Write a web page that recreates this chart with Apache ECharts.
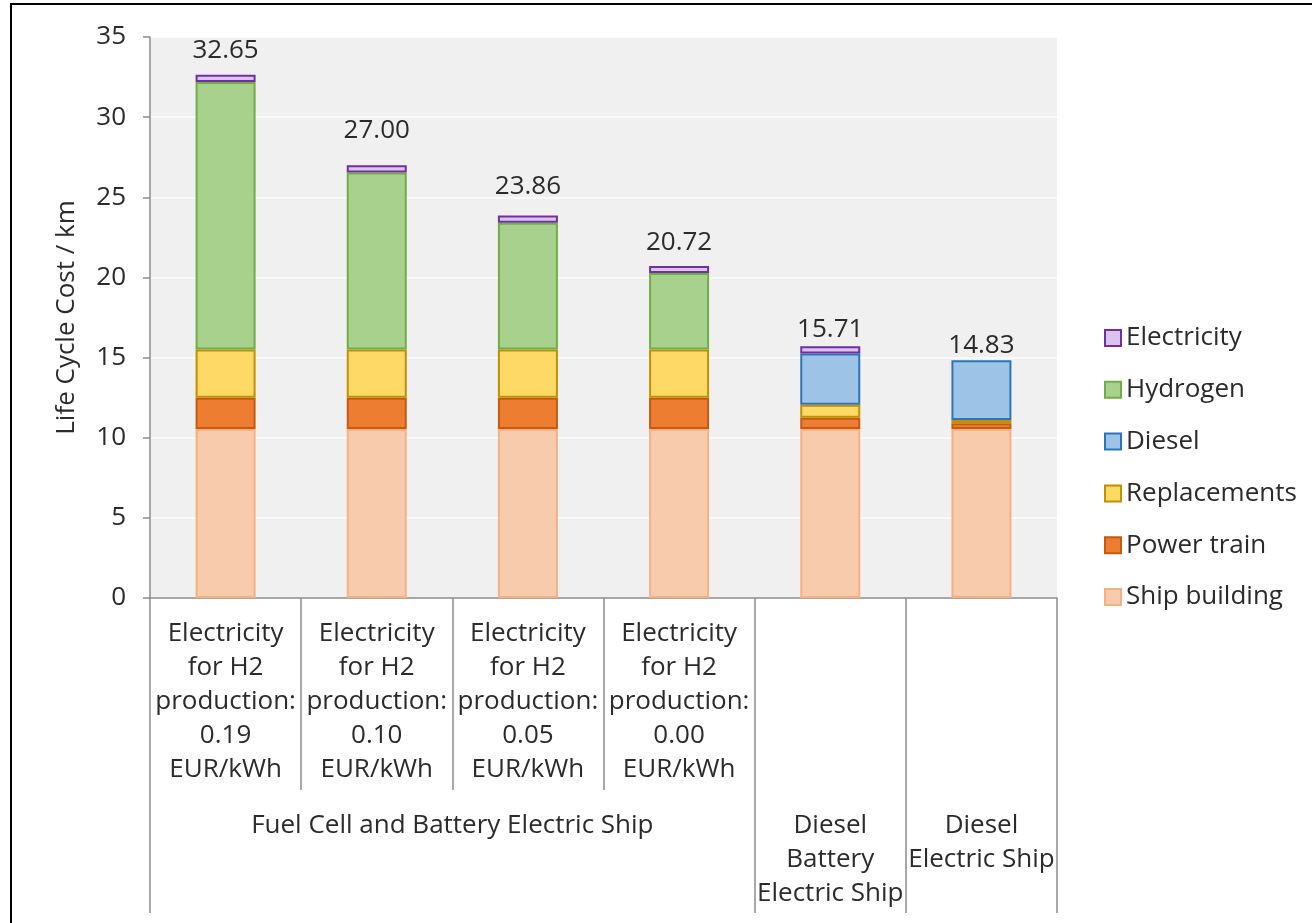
<!DOCTYPE html>
<html>
<head>
<meta charset="utf-8">
<script src="https://cdn.jsdelivr.net/npm/echarts@6/dist/echarts.min.js"></script>
<style>
  html, body { margin: 0; padding: 0; background: #fff; }
  #chart { width: 1312px; height: 923px; }
</style>
</head>
<body>
<div id="chart"></div>
<script>
// categories (first label row) and groups (second label row)
const categories = [
  'Electricity\nfor H2\nproduction:\n0.19\nEUR/kWh',
  'Electricity\nfor H2\nproduction:\n0.10\nEUR/kWh',
  'Electricity\nfor H2\nproduction:\n0.05\nEUR/kWh',
  'Electricity\nfor H2\nproduction:\n0.00\nEUR/kWh',
  '',
  ''
];
const groupNames = ['Fuel Cell and Battery Electric Ship', 'Diesel\nBattery\nElectric Ship', 'Diesel\nElectric Ship'];
const groupSpans = [4, 1, 1];

// stacked values, bottom to top
const shipBuilding = [10.55, 10.55, 10.55, 10.55, 10.55, 10.55];
const powerTrain   = [1.95, 1.95, 1.95, 1.95, 0.70, 0.35];
const replacements = [3.00, 3.00, 3.00, 3.00, 0.80, 0.20];
const diesel       = [null, null, null, null, 3.20, 3.73];
const hydrogen     = [16.70, 11.05, 7.91, 4.77, null, null];
const electricity  = [0.45, 0.45, 0.45, 0.45, 0.46, null];
const totals       = [32.65, 27.00, 23.86, 20.72, 15.71, 14.83];

const legendOrder = ['Electricity', 'Hydrogen', 'Diesel', 'Replacements', 'Power train', 'Ship building'];

const FONT = '"Open Sans", "Noto Sans", sans-serif';
const TEXT = '#2b2b2b';
const AXIS = '#8c8c8c';

const chart = echarts.init(document.getElementById('chart'));

// second label row: half-category slots, so group centres and boundaries fall on slots
const slotCount = categories.length * 2 + 1;
const slotData = [];
for (let i = 0; i < slotCount; i++) slotData.push('s' + i);
const slotLabel = {};
const slotTicks = { 0: true };
let start = 0;
groupNames.forEach((name, g) => {
  slotLabel[start * 2 + groupSpans[g]] = name;
  start += groupSpans[g];
  slotTicks[start * 2] = true;
});

function barSeries(name, data, fill, border) {
  return {
    name: name,
    type: 'bar',
    stack: 'cost',
    barWidth: 60,
    data: data,
    itemStyle: { color: fill, borderColor: border, borderWidth: 2 },
    emphasis: { disabled: true }
  };
}

const labelDistance = [11, 21, 15, 10, 3, 1];

const option = {
  animation: false,
  textStyle: { fontFamily: FONT },
  grid: {
    left: 150, right: 255, top: 37, bottom: 325,
    show: true, backgroundColor: '#f0f0f0', borderWidth: 0
  },
  legend: {
    data: legendOrder,
    orient: 'vertical',
    left: 1099,
    top: 320,
    icon: 'rect',
    itemWidth: 16,
    itemHeight: 16,
    itemGap: 25.8,
    textStyle: { fontSize: 26, color: TEXT, fontFamily: FONT }
  },
  xAxis: [
    {
      type: 'category',
      data: categories,
      axisLine: { show: true, lineStyle: { color: AXIS, width: 1.5 } },
      axisTick: { show: true, interval: 0, length: 192, lineStyle: { color: AXIS, width: 1.5 } },
      axisLabel: {
        interval: 0, margin: 19, fontSize: 26, lineHeight: 34,
        color: TEXT, fontFamily: FONT
      }
    },
    {
      type: 'category',
      boundaryGap: false,
      data: slotData,
      position: 'bottom',
      axisLine: { show: false },
      axisTick: {
        show: true,
        interval: (idx) => !!slotTicks[idx],
        length: 315,
        lineStyle: { color: AXIS, width: 1.5 }
      },
      axisLabel: {
        interval: 0, margin: 211, fontSize: 26, lineHeight: 34,
        color: TEXT, fontFamily: FONT,
        formatter: (v, idx) => slotLabel[idx] || ''
      }
    }
  ],
  yAxis: {
    type: 'value',
    min: 0, max: 35, interval: 5,
    name: 'Life Cycle Cost / km',
    nameLocation: 'middle',
    nameGap: 70,
    nameTextStyle: { fontSize: 26, color: TEXT, fontFamily: FONT },
    axisLine: { show: true, lineStyle: { color: AXIS, width: 1.5 } },
    axisTick: { show: true, length: 7, lineStyle: { color: AXIS, width: 1.5 } },
    axisLabel: { margin: 24, fontSize: 26, color: TEXT, fontFamily: FONT },
    splitLine: { lineStyle: { color: '#ffffff', width: 1.5 } }
  },
  series: [
    barSeries('Ship building', shipBuilding, '#f8cbad', '#f4b183'),
    barSeries('Power train', powerTrain, '#ed7d31', '#c55a11'),
    barSeries('Replacements', replacements, '#ffd966', '#bf9000'),
    barSeries('Diesel', diesel, '#9dc3e6', '#2e75b6'),
    barSeries('Hydrogen', hydrogen, '#a9d18e', '#70ad47'),
    barSeries('Electricity', electricity, '#dcc3ee', '#7030a0'),
    {
      name: 'Total',
      type: 'scatter',
      symbolSize: 1,
      itemStyle: { color: 'rgba(0,0,0,0)', opacity: 1 },
      data: totals.map((v, i) => ({ value: v, label: { distance: labelDistance[i] } })),
      label: {
        show: true,
        position: 'top',
        fontSize: 26,
        color: TEXT,
        fontFamily: FONT,
        formatter: (p) => Number(p.value).toFixed(2)
      },
      emphasis: { disabled: true },
      z: 5
    }
  ],
  graphic: [
    { type: 'line', shape: { x1: 11, y1: 3, x2: 11, y2: 923 }, style: { stroke: '#000', lineWidth: 2 } },
    { type: 'line', shape: { x1: 10, y1: 4, x2: 1312, y2: 4 }, style: { stroke: '#000', lineWidth: 2 } }
  ]
};

chart.setOption(option);
</script>
</body>
</html>
